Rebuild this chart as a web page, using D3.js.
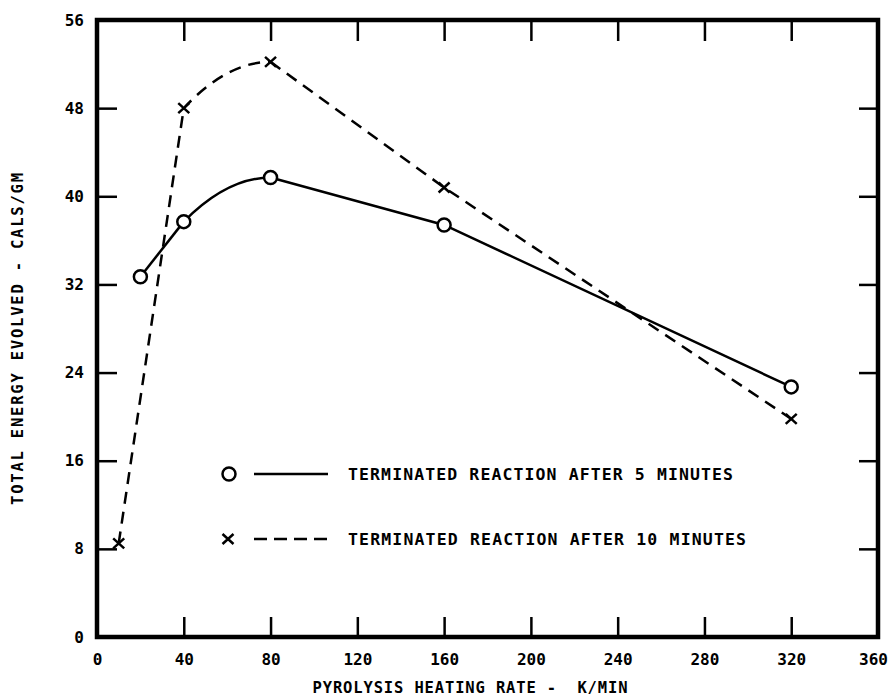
<!DOCTYPE html>
<html><head><meta charset="utf-8">
<script src="https://cdn.jsdelivr.net/npm/d3@7"></script>
<style>body{margin:0;background:#fff}</style>
</head><body><svg id="c" width="893" height="700"></svg>
<script>
// ---- data ----
const xTicks = [0, 40, 80, 120, 160, 200, 240, 280, 320, 360];
const yTicks = [0, 8, 16, 24, 32, 40, 48, 56];
const rate5 = [20, 40, 80, 160, 320];
const energy5 = [32.7, 37.7, 41.7, 37.4, 22.7];
const rate10 = [10, 40, 80, 160, 320];
const energy10 = [8.5, 48.0, 52.2, 40.8, 19.8];
const curvedSpan = [40, 80];
const xTitle = "PYROLYSIS HEATING RATE -\u00A0 K/MIN";
const yTitle = "TOTAL ENERGY EVOLVED - CALS/GM";
const legendLabels = ["TERMINATED REACTION AFTER 5 MINUTES", "TERMINATED REACTION AFTER 10 MINUTES"];

// ---- layout ----
const FONT = "'DejaVu Sans Mono', 'Liberation Mono', monospace";
const svg = d3.select("#c");
const L = 97, R = 878, T = 20, B = 637;
const x = d3.scaleLinear().domain([0, 360]).range([L, R]);
const y = d3.scaleLinear().domain([0, 56]).range([B, T]);

function styleAxis(g, labels) {
  g.select(".domain").remove();
  g.selectAll(".tick line").attr("stroke", "#000").attr("stroke-width", 2.5);
  g.selectAll(".tick text").attr("font-family", FONT).attr("font-weight", "bold")
    .attr("font-size", 16).attr("fill", "#000").style("display", labels ? null : "none");
}
svg.append("g").attr("transform", `translate(${L},0)`)
  .call(d3.axisLeft(y).tickValues(yTicks).tickSize(-20).tickPadding(13).tickFormat(d3.format("d")))
  .call(g => styleAxis(g, true));
svg.append("g").attr("transform", `translate(${R},0)`)
  .call(d3.axisRight(y).tickValues(yTicks.slice(1, -1)).tickSize(-19))
  .call(g => styleAxis(g, false));
svg.append("g").attr("transform", `translate(0,${B})`)
  .call(d3.axisBottom(x).tickValues(xTicks).tickSize(-20).tickPadding(17).tickFormat(d3.format("d")))
  .call(g => styleAxis(g, true))
  .call(g => g.selectAll(".tick text").filter(d => d === 360).attr("dx", -5));
svg.append("g").attr("transform", `translate(0,${T})`)
  .call(d3.axisTop(x).tickValues(xTicks.slice(1, -1)).tickSize(-21))
  .call(g => styleAxis(g, false));

// frame
svg.append("rect").attr("x", L).attr("y", T).attr("width", R - L).attr("height", B - T)
  .attr("fill", "none").attr("stroke", "#000").attr("stroke-width", 4.5);

// clip for curved span
svg.append("clipPath").attr("id", "span").append("rect")
  .attr("x", x(curvedSpan[0])).attr("y", 0)
  .attr("width", x(curvedSpan[1]) - x(curvedSpan[0])).attr("height", 700);

function drawSeries(xs, ys, dash) {
  const pts = xs.map((v, i) => [v, ys[i]]);
  const lin = d3.line().x(d => x(d[0])).y(d => y(d[1]));
  const mono = d3.line().x(d => x(d[0])).y(d => y(d[1])).curve(d3.curveMonotoneX);
  const g = svg.append("g").attr("fill", "none").attr("stroke", "#000")
    .attr("stroke-width", 2.5).attr("stroke-dasharray", dash);
  g.append("path").attr("d", lin(pts.filter(p => p[0] <= curvedSpan[0])));
  g.append("path").attr("d", mono(pts)).attr("clip-path", "url(#span)");
  g.append("path").attr("d", lin(pts.filter(p => p[0] >= curvedSpan[1])));
  return pts;
}
function circleMark(cx, cy) {
  svg.append("circle").attr("cx", cx).attr("cy", cy).attr("r", 6.5)
    .attr("fill", "#fff").attr("stroke", "#000").attr("stroke-width", 2.5);
}
function crossMark(cx, cy) {
  svg.append("path").attr("d", `M${cx-5.5},${cy-5}L${cx+5.5},${cy+5}M${cx-5.5},${cy+5}L${cx+5.5},${cy-5}`)
    .attr("stroke", "#000").attr("stroke-width", 2.5).attr("fill", "none");
}

const p5 = drawSeries(rate5, energy5, null);
const p10 = drawSeries(rate10, energy10, "12,8");
p5.forEach(p => circleMark(x(p[0]), y(p[1])));
p10.forEach(p => crossMark(x(p[0]), y(p[1])));

// legend
circleMark(229, 474);
svg.append("line").attr("x1", 254).attr("x2", 328).attr("y1", 474).attr("y2", 474)
  .attr("stroke", "#000").attr("stroke-width", 2.5);
crossMark(228, 539);
svg.append("line").attr("x1", 254).attr("x2", 328).attr("y1", 539).attr("y2", 539)
  .attr("stroke", "#000").attr("stroke-width", 2.5).attr("stroke-dasharray", "13,7");
const legW = [385, 398];
legendLabels.forEach((t, i) => {
  svg.append("text").attr("x", 348).attr("y", i ? 539 : 474).attr("dy", "0.35em")
    .attr("font-family", FONT).attr("font-weight", "bold").attr("font-size", 16.5)
    .attr("textLength", legW[i]).attr("lengthAdjust", "spacing").text(t);
});

// titles
svg.append("text").attr("x", 470).attr("y", 688).attr("dy", "0.35em").attr("text-anchor", "middle")
  .attr("font-family", FONT).attr("font-weight", "bold").attr("font-size", 15.5)
  .attr("textLength", 315).attr("lengthAdjust", "spacing").text(xTitle);
svg.append("text").attr("transform", "translate(18,339) rotate(-90)").attr("dy", "0.35em")
  .attr("text-anchor", "middle")
  .attr("font-family", FONT).attr("font-weight", "bold").attr("font-size", 15.5)
  .attr("textLength", 332).attr("lengthAdjust", "spacing").text(yTitle);
</script></body></html>
